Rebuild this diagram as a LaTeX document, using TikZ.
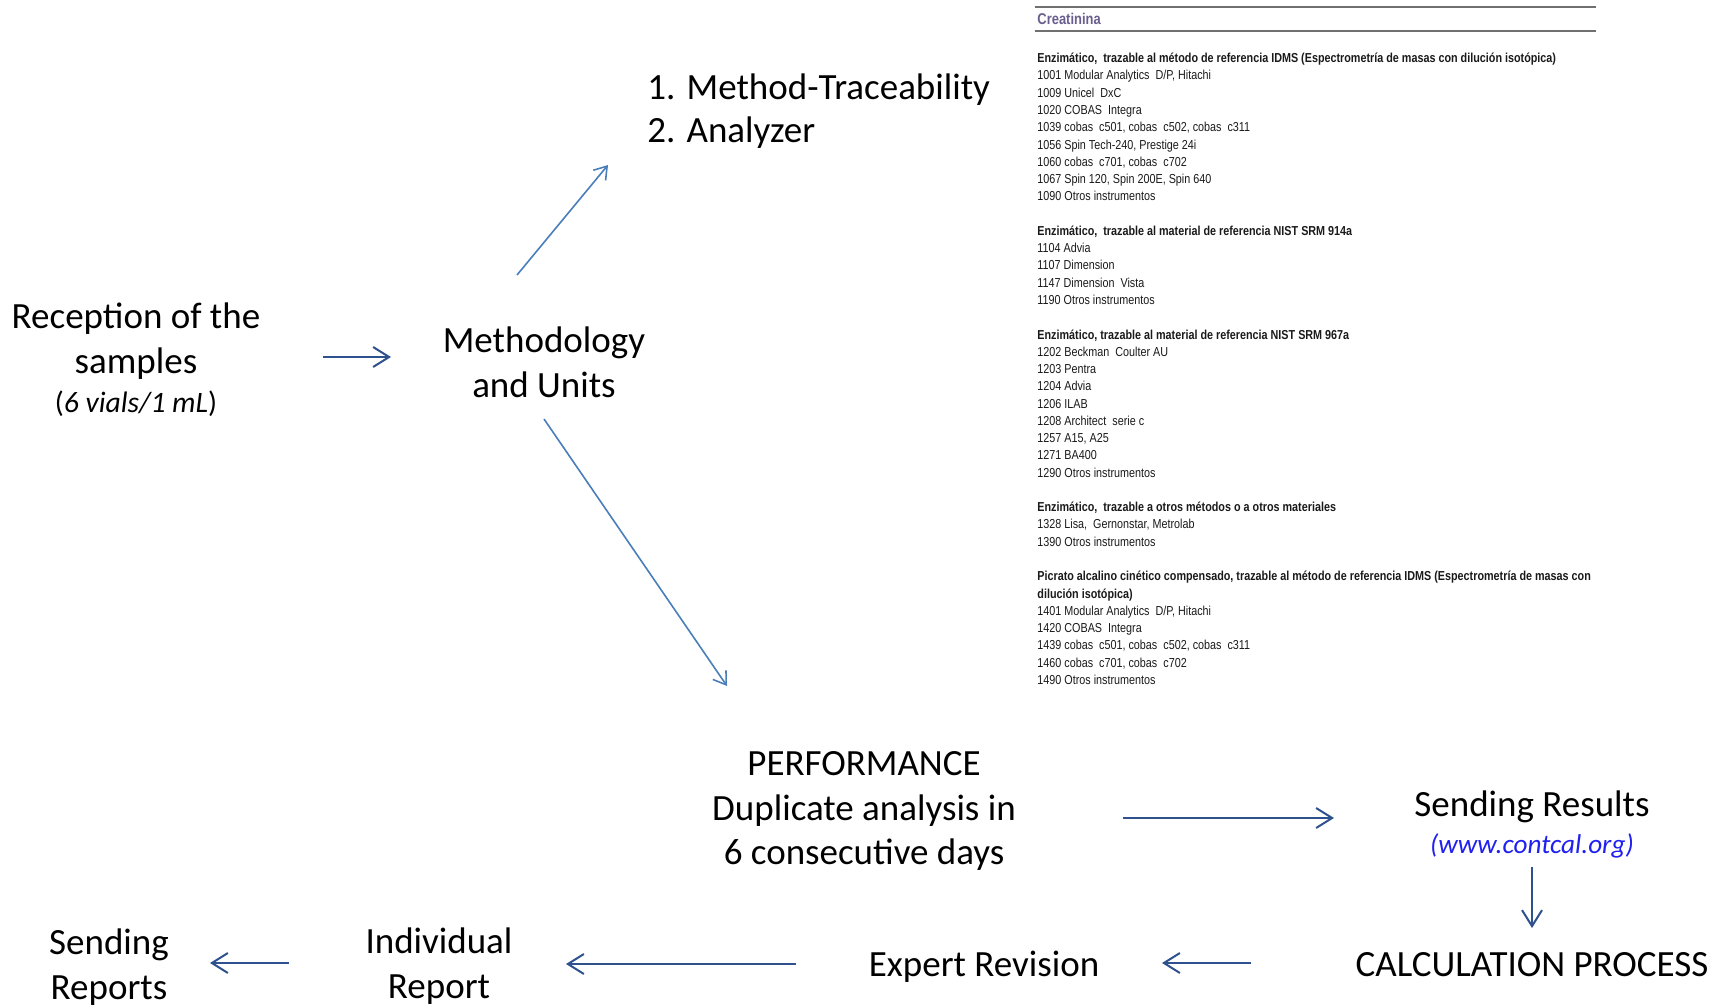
\documentclass[tikz,border=0pt]{standalone}
\usepackage{fontspec}
\setmainfont{Carlito}
\newfontfamily\listfont[FakeStretch=0.83]{Liberation Sans}
\usetikzlibrary{arrows.meta}
\definecolor{arrdark}{HTML}{2F528F}
\definecolor{arrlight}{HTML}{4A7EBB}
\definecolor{linkblue}{HTML}{2020F0}
\definecolor{headpurple}{HTML}{6A5E8E}
\definecolor{rulegray}{HTML}{707070}
\definecolor{listtext}{HTML}{1A1A1A}
\begin{document}
\begin{tikzpicture}[x=0.5pt,y=-0.5pt,
  lab/.style={font=\fontsize{18.5}{22.5}\selectfont, align=center, inner sep=0pt},
  flow/.style={draw=arrdark, line width=1pt, -{Straight Barb[length=8pt,width=10pt]}},
  diag/.style={draw=arrlight, line width=0.8pt, -{Straight Barb[length=6pt,width=8pt]}},
  listline/.style={font=\listfont\fontsize{6.5}{8}\selectfont, anchor=base west, inner sep=0pt, text=listtext},
  rule/.style={draw=rulegray, line width=0.7pt},
]
\useasboundingbox (0,0) rectangle (1716,1005);

% main labels
\node[lab] (rec) at (136,360) {Reception of the\\samples\\[-3pt]{\fontsize{14.8}{17}\selectfont(\textit{6 vials/1 mL})}};
\node[lab] (meth) at (544,362.2) {Methodology\\and Units};
\node[lab, align=left, anchor=west] (trace) at (647,111.5) {1. Method-Traceability\\[-1pt]2. Analyzer};
\node[lab] (perf) at (864,810.5) {PERFORMANCE\\Duplicate analysis in\\[-0.5pt]6 consecutive days};
\node[lab] (send) at (1532,824.5) {Sending Results\\[-4pt]{\fontsize{13.6}{16}\selectfont\textcolor{linkblue}{\textit{(www.contcal.org)}}}};
\node[lab] (calc) at (1532,965) {CALCULATION PROCESS};
\node[lab] (expert) at (984,967) {Expert Revision};
\node[lab] (indiv) at (439,966.5) {Individual\\Report};
\node[lab] (sendrep) at (109,967) {Sending\\Reports};

% arrow end points
\coordinate (a1s) at (323,357);  \coordinate (a1e) at (391,357);
\coordinate (ups) at (517,275);  \coordinate (upe) at (608,165);
\coordinate (dns) at (544,419);  \coordinate (dne) at (727,686);
\coordinate (a2s) at (1123,818); \coordinate (a2e) at (1334,818);
\coordinate (a3s) at (1532,867); \coordinate (a3e) at (1532,928);
\coordinate (a4s) at (1251,963); \coordinate (a4e) at (1162,963);
\coordinate (a5s) at (796,964);  \coordinate (a5e) at (566,964);
\coordinate (a6s) at (289,963);  \coordinate (a6e) at (210,963);

\draw[flow] (a1s) -- (a1e);
\draw[diag] (ups) -- (upe);
\draw[diag] (dns) -- (dne);
\draw[flow] (a2s) -- (a2e);
\draw[flow] (a3s) -- (a3e);
\draw[flow] (a4s) -- (a4e);
\draw[flow] (a5s) -- (a5e);
\draw[flow] (a6s) -- (a6e);

% method list panel
\coordinate (r1l) at (1035,7);  \coordinate (r1r) at (1596,7);
\coordinate (r2l) at (1035,31); \coordinate (r2r) at (1596,31);
\draw[rule] (r1l) -- (r1r);
\draw[rule] (r2l) -- (r2r);
\node[anchor=base west, inner sep=0pt, text=headpurple, font=\listfont\bfseries\fontsize{7.8}{9}\selectfont] (creat) at (1037,24.5) {Creatinina};

\foreach \n/\t in {
 1/{\bfseries Enzimático,\ \ trazable al método de referencia IDMS (Espectrometría de masas con dilución isotópica)},
 2/{1001 Modular Analytics\ \ D/P, Hitachi},
 3/{1009 Unicel\ \ DxC},
 4/{1020 COBAS\ \ Integra},
 5/{1039 cobas\ \ c501, cobas\ \ c502, cobas\ \ c311},
 6/{1056 Spin Tech-240, Prestige 24i},
 7/{1060 cobas\ \ c701, cobas\ \ c702},
 8/{1067 Spin 120, Spin 200E, Spin 640},
 9/{1090 Otros instrumentos},
 11/{\bfseries Enzimático,\ \ trazable al material de referencia NIST SRM 914a},
 12/{1104 Advia},
 13/{1107 Dimension},
 14/{1147 Dimension\ \ Vista},
 15/{1190 Otros instrumentos},
 17/{\bfseries Enzimático, trazable al material de referencia NIST SRM 967a},
 18/{1202 Beckman\ \ Coulter AU},
 19/{1203 Pentra},
 20/{1204 Advia},
 21/{1206 ILAB},
 22/{1208 Architect\ \ serie c},
 23/{1257 A15, A25},
 24/{1271 BA400},
 25/{1290 Otros instrumentos},
 27/{\bfseries Enzimático,\ \ trazable a otros métodos o a otros materiales},
 28/{1328 Lisa,\ \ Gernonstar, Metrolab},
 29/{1390 Otros instrumentos},
 31/{\bfseries Picrato alcalino cinético compensado, trazable al método de referencia IDMS (Espectrometría de masas con},
 32/{\bfseries dilución isotópica)},
 33/{1401 Modular Analytics\ \ D/P, Hitachi},
 34/{1420 COBAS\ \ Integra},
 35/{1439 cobas\ \ c501, cobas\ \ c502, cobas\ \ c311},
 36/{1460 cobas\ \ c701, cobas\ \ c702},
 37/{1490 Otros instrumentos}}
 \node[listline] (l\n) at (1037,{62.7+17.27*(\n-1)}) {\t};
\end{tikzpicture}
\end{document}
